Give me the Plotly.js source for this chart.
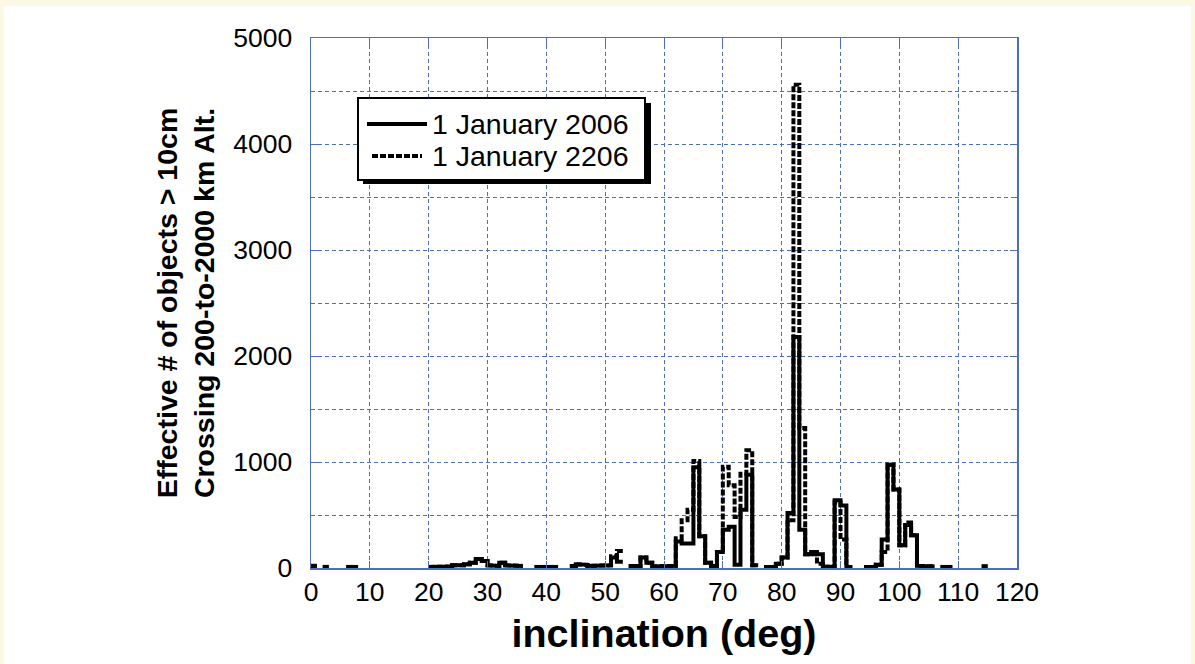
<!DOCTYPE html>
<html><head><meta charset="utf-8">
<script src="https://cdn.plot.ly/plotly-3.0.1.min.js"></script>
<style>
html,body{margin:0;padding:0;background:#fbf8e4;}
#chart{position:absolute;left:4px;top:6px;width:1187px;height:658px;background:#fff;}
</style></head><body><div id="chart"></div>
<script>
// inclination bin starts (deg), 1-degree bins
const binStart = [0,1,2,3,4,5,6,7,8,9,10,11,12,13,14,15,16,17,18,19,
  20,21,22,23,24,25,26,27,28,29,30,31,32,33,34,35,36,37,38,39,
  40,41,42,43,44,45,46,47,48,49,50,51,52,53,54,55,56,57,58,59,
  60,61,62,63,64,65,66,67,68,69,70,71,72,73,74,75,76,77,78,79,
  80,81,82,83,84,85,86,87,88,89,90,91,92,93,94,95,96,97,98,99,
  100,101,102,103,104,105,106,107,108,109,110,111,112,113,114];
const binWidth = 1;

// Effective # of objects > 10cm, 1 January 2006
const objects2006 = [20,null,10,null,null,null,10,10,null,null,null,null,null,null,null,null,null,null,null,null,
  10,10,10,15,25,25,35,50,85,65,25,20,50,25,25,20,null,null,10,10,
  10,10,null,null,20,35,30,20,20,25,25,100,60,null,20,20,100,50,15,15,
  15,20,250,230,230,950,300,50,20,150,360,390,30,550,880,25,null,10,10,40,
  100,520,2180,360,130,150,130,12,12,640,590,10,null,null,10,10,30,270,975,740,
  215,405,310,20,15,15,null,10,10,null,null,null,null,null,15];

// Effective # of objects > 10cm, 1 January 2206
const objects2206 = [20,null,10,null,null,null,10,10,null,null,null,null,null,null,null,null,null,null,null,null,
  10,10,10,15,25,25,35,50,85,65,25,20,50,25,25,20,null,null,10,10,
  10,10,null,null,20,35,30,20,20,25,25,110,160,null,20,20,100,50,15,15,
  15,20,280,450,550,1010,300,50,20,150,955,780,480,890,1110,25,null,10,10,40,
  100,450,4560,1320,130,130,40,12,12,620,270,10,null,null,10,10,30,150,975,740,
  215,430,310,20,15,15,null,10,10,null,null,null,null,null,15];

const legendLabels = ['1 January 2006', '1 January 2206'];

function steps(vals){
  const x=[], y=[];
  for(let i=0;i<binStart.length;i++){
    const v = vals[i];
    if(v===null){
      if(x.length && x[x.length-1]!==null){ x.push(null); y.push(null); }
      continue;
    }
    x.push(binStart[i], binStart[i]+binWidth);
    y.push(v, v);
  }
  return {x, y};
}

const s06 = steps(objects2006), s206 = steps(objects2206);
const LW = 4;
const traces = [
  {x: s206.x, y: s206.y, mode:'lines', name: legendLabels[1], connectgaps:false,
   line:{color:'#000', width:LW, dash:'6px,2px'}, showlegend:false, hoverinfo:'skip'},
  {x: s06.x, y: s06.y, mode:'lines', name: legendLabels[0], connectgaps:false,
   line:{color:'#000', width:LW}, showlegend:false, hoverinfo:'skip'}
];

const BLUE = '#4d6ebf';
const FONT = 'Liberation Sans, Arial, Helvetica, sans-serif';
// page-pixel to paper helpers (plot area: x 311..1017, y 38..568)
const PX = p => (p-311)/706;
const PY = p => (568-p)/530;

const shapes = [
  {type:'rect', xref:'paper', yref:'paper', x0:PX(363), x1:PX(651), y0:PY(103), y1:PY(184),
   fillcolor:'#000', line:{width:0}, layer:'above'},
  {type:'rect', xref:'paper', yref:'paper', x0:PX(358), x1:PX(645), y0:PY(98), y1:PY(180),
   fillcolor:'#fff', line:{color:'#000', width:2}, layer:'above'},
  {type:'line', xref:'paper', yref:'paper', x0:PX(367), x1:PX(427), y0:PY(124), y1:PY(124),
   line:{color:'#000', width:4}, layer:'above'},
  {type:'line', xref:'paper', yref:'paper', x0:PX(372), x1:PX(422), y0:PY(156), y1:PY(156),
   line:{color:'#000', width:4, dash:'6px,2px'}, layer:'above'}
];
const annotations = [
  {xref:'paper', yref:'paper', x:PX(430), y:PY(124), xanchor:'left', yanchor:'middle',
   text:legendLabels[0], showarrow:false, font:{family:FONT, size:28.5, color:'#000'}},
  {xref:'paper', yref:'paper', x:PX(430), y:PY(156), xanchor:'left', yanchor:'middle',
   text:legendLabels[1], showarrow:false, font:{family:FONT, size:28.5, color:'#000'}}
];

const layout = {
  width:1187, height:658,
  margin:{l:307, r:174, t:32, b:96},
  paper_bgcolor:'#fff', plot_bgcolor:'#fff',
  font:{family:FONT, color:'#000'},
  showlegend:false,
  xaxis:{range:[0,120], tick0:0, dtick:10, showgrid:true, gridcolor:BLUE, gridwidth:1, griddash:'4px,3px',
    showline:true, linecolor:BLUE, linewidth:1.5, mirror:'ticks', ticks:'inside', ticklen:7, tickcolor:BLUE,
    zeroline:false, tickfont:{family:FONT, size:26.5, color:'#000'},
    title:{text:'<b>inclination (deg)</b>', font:{family:FONT, size:39.5, color:'#000'}, standoff:13}},
  yaxis:{range:[0,5000], tick0:0, dtick:1000, showgrid:true, gridcolor:BLUE, gridwidth:1, griddash:'4px,3px',
    minor:{dtick:500, showgrid:true, gridcolor:BLUE, gridwidth:1, griddash:'4px,3px', ticks:'inside', ticklen:4, tickcolor:BLUE},
    showline:true, linecolor:BLUE, linewidth:1.5, mirror:'ticks', ticks:'inside', ticklen:7, tickcolor:BLUE,
    zeroline:false, tickfont:{family:FONT, size:26.5, color:'#000'}, ticklabelstandoff:12,
    title:{text:'<b>Effective # of objects &gt; 10cm</b><br><b>Crossing 200-to-2000 km Alt.</b>',
      font:{family:FONT, size:28.5, color:'#000'}, standoff:10}},
  shapes, annotations
};

Plotly.newPlot('chart', traces, layout, {displayModeBar:false, staticPlot:true});
</script></body></html>
